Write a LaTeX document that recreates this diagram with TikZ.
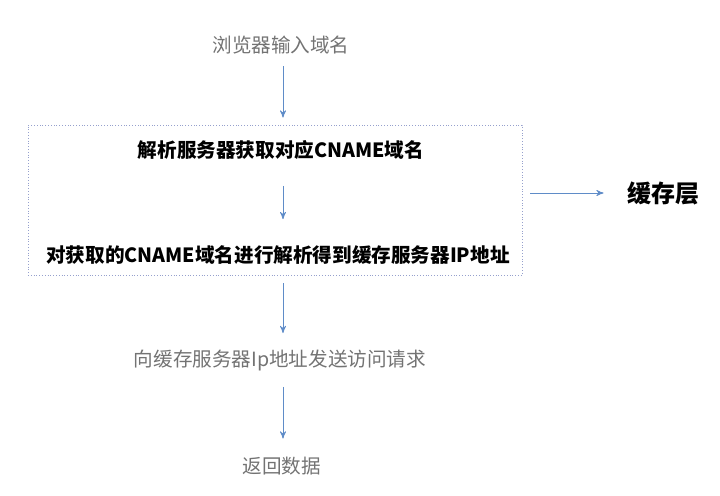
\documentclass[tikz,border=0pt]{standalone}
\usepackage{fontspec}
\setmainfont{Noto Sans CJK SC}
\usetikzlibrary{arrows}
\usepackage{xcolor}
\definecolor{flowblue}{RGB}{95,140,200}
\definecolor{flowgray}{RGB}{115,115,115}
\definecolor{boxline}{RGB}{150,160,205}

\begin{document}
\begin{tikzpicture}[x=0.5pt,y=-0.5pt,
  plain/.style={text=flowgray, font=\fontsize{9.8pt}{12pt}\selectfont, inner sep=1pt},
  strong/.style={text=black, font=\fontsize{9.8pt}{12pt}\selectfont\bfseries, inner sep=1pt},
  flow/.style={flowblue, thin, ->, >=stealth'}]
\useasboundingbox (0,0) rectangle (720,495);
% outer steps
\node[plain] (input) at (281,45) {浏览器输入域名};
\node[draw=boxline, densely dotted, minimum width=247pt, minimum height=75pt] (cachebox) at (275,200) {};
\node[strong] (parse) at (281,150) {解析服务器获取对应CNAME域名};
\node[strong] (resolve) at (278,255) {对获取的CNAME域名进行解析得到缓存服务器IP地址};
\node[plain] (request) at (280,360) {向缓存服务器Ip地址发送访问请求};
\node[plain] (data) at (282,466) {返回数据};
\node[strong, font=\fontsize{12pt}{14pt}\selectfont\bfseries] (layer) at (664,193) {缓存层};
% connectors
\draw[flow, shorten <=5pt, shorten >=3.5pt] (input.south -| 283,0) -- (cachebox.north -| 283,0);
\draw[flow, shorten <=12pt, shorten >=12pt] (parse.south -| 283,0) -- (resolve.north -| 283,0);
\draw[flow, shorten <=4pt, shorten >=7pt] (cachebox.south -| 283,0) -- (request.north -| 283,0);
\draw[flow, shorten <=7pt, shorten >=8pt] (request.south -| 283,0) -- (data.north -| 283,0);
\draw[flow, shorten <=4pt, shorten >=11pt] (cachebox.east |- layer) -- (layer.west);
\end{tikzpicture}
\end{document}
